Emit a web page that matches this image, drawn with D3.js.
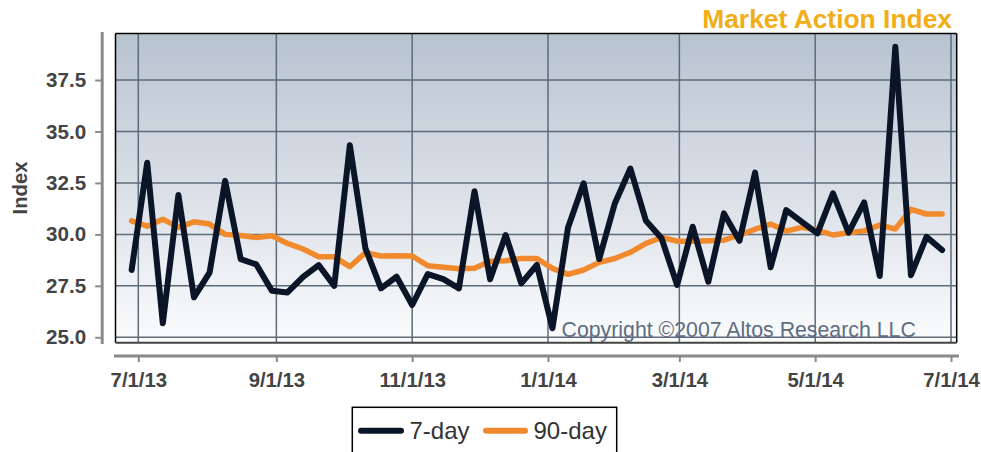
<!DOCTYPE html>
<html>
<head>
<meta charset="utf-8">
<script src="https://cdn.jsdelivr.net/npm/d3@7"></script>
<style>
  html, body { margin: 0; padding: 0; background: #ffffff; }
  svg { display: block; }
  text { font-family: "Liberation Sans", Arial, Helvetica, sans-serif; }
</style>
</head>
<body>
<svg id="chart" width="981" height="452"></svg>
<script>
// ---- Data ----
const firstWeek = "2013-06-28";   // first weekly observation
const weekCount = 53;
const sevenDay = [
  28.27, 33.48, 25.68, 31.91, 26.94, 28.14, 32.60, 28.80, 28.54, 27.26,
  27.18, 27.94, 28.51, 27.50, 34.33, 29.32, 27.38, 27.94, 26.57, 28.07,
  27.83, 27.38, 32.10, 27.82, 29.97, 27.62, 28.51, 25.44, 30.34, 32.48,
  28.80, 31.50, 33.20, 30.66, 29.81, 27.54, 30.37, 27.70, 31.02, 29.69,
  33.00, 28.40, 31.18, 30.61, 30.05, 31.99, 30.08, 31.55, 27.98, 39.11,
  28.02, 29.88, 29.24
];
const ninetyDay = [
  30.66, 30.40, 30.74, 30.34, 30.61, 30.50, 30.00, 29.95, 29.85, 29.93,
  29.56, 29.29, 28.91, 28.91, 28.43, 29.11, 28.95, 28.96, 28.95, 28.48,
  28.40, 28.33, 28.36, 28.70, 28.72, 28.83, 28.83, 28.35, 28.06, 28.27,
  28.64, 28.83, 29.13, 29.56, 29.85, 29.67, 29.67, 29.69, 29.72, 29.97,
  30.25, 30.50, 30.16, 30.34, 30.21, 29.97, 30.08, 30.17, 30.45, 30.26,
  31.21, 30.99, 30.99
];
const yTicks = [25.0, 27.5, 30.0, 32.5, 35.0, 37.5];
const xTickDates = ["2013-07-01", "2013-09-01", "2013-11-01", "2014-01-01", "2014-03-01", "2014-05-01", "2014-07-01"];
const seriesNames = ["7-day", "90-day"];
const seriesColors = ["#0b1528", "#f08a2c"];
const titleText = "Market Action Index";
const yTitle = "Index";
const copyrightText = "Copyright \u00A92007 Altos Research LLC";

// ---- Setup ----
const parse = d3.utcParse("%Y-%m-%d");
const start = parse(firstWeek);
const dates = d3.range(weekCount).map(i => d3.utcDay.offset(start, 7 * i));
const ticksX = xTickDates.map(parse);
const fmtX = d3.utcFormat("%-m/%-d/%y");

const plot = { left: 115.5, top: 33.5, right: 956.7, bottom: 342.7 };

const x = d3.scaleUtc()
  .domain([parse("2013-07-01"), parse("2014-07-01")])
  .range([138.3, 951]);
const y = d3.scaleLinear()
  .domain([25, 37.5])
  .range([337.3, 80]);

const svg = d3.select("#chart");
const defs = svg.append("defs");
const grad = defs.append("linearGradient").attr("id", "bg").attr("x1", 0).attr("y1", 0).attr("x2", 0).attr("y2", 1);
grad.append("stop").attr("offset", "0%").attr("stop-color", "#b8c3d0");
grad.append("stop").attr("offset", "55%").attr("stop-color", "#dde2e9");
grad.append("stop").attr("offset", "100%").attr("stop-color", "#fbfcfd");

// background
svg.append("rect")
  .attr("x", plot.left).attr("y", plot.top)
  .attr("width", plot.right - plot.left).attr("height", plot.bottom - plot.top)
  .attr("fill", "url(#bg)");

// gridlines
const grid = svg.append("g");
grid.selectAll("line.h").data(yTicks).join("line")
  .attr("x1", plot.left).attr("x2", plot.right)
  .attr("y1", d => y(d)).attr("y2", d => y(d))
  .attr("stroke", "#5d6b7a").attr("stroke-width", 1.5);
grid.selectAll("line.v").data(ticksX).join("line")
  .attr("x1", d => x(d)).attr("x2", d => x(d))
  .attr("y1", plot.top).attr("y2", plot.bottom)
  .attr("stroke", "#5d6b7a").attr("stroke-width", 1.5);

// copyright
svg.append("text")
  .attr("x", 561.5).attr("y", 336.5)
  .attr("font-size", 21.3)
  .attr("fill", "#5e6e81")
  .text(copyrightText);

// plot border
svg.append("line").attr("x1", plot.left).attr("x2", plot.right).attr("y1", plot.top).attr("y2", plot.top).attr("stroke", "#000").attr("stroke-width", 1.5);
svg.append("line").attr("x1", plot.left).attr("x2", plot.left).attr("y1", plot.top).attr("y2", plot.bottom).attr("stroke", "#000").attr("stroke-width", 1.5);
svg.append("line").attr("x1", plot.right).attr("x2", plot.right).attr("y1", plot.top).attr("y2", plot.bottom).attr("stroke", "#000").attr("stroke-width", 1.5);
svg.append("line").attr("x1", plot.left).attr("x2", plot.right).attr("y1", plot.bottom).attr("y2", plot.bottom).attr("stroke", "#444").attr("stroke-width", 2);

// lines
const lineGen = vals => d3.line()
  .x((d, i) => x(dates[i]))
  .y(d => y(d))(vals);

svg.append("path")
  .attr("d", lineGen(ninetyDay))
  .attr("fill", "none").attr("stroke", seriesColors[1])
  .attr("stroke-width", 5.5).attr("stroke-linejoin", "round").attr("stroke-linecap", "round");
svg.append("path")
  .attr("d", lineGen(sevenDay))
  .attr("fill", "none").attr("stroke", seriesColors[0])
  .attr("stroke-width", 6).attr("stroke-linejoin", "round").attr("stroke-linecap", "round");

// y axis
const yAxis = svg.append("g").attr("transform", "translate(102.2,0)")
  .call(d3.axisLeft(y).tickValues(yTicks).tickFormat(d3.format(".1f")).tickSize(7).tickPadding(9));
yAxis.select(".domain").remove();
yAxis.append("line").attr("x1", 0).attr("x2", 0).attr("y1", 32).attr("y2", 344)
  .attr("stroke", "#8a8a8a").attr("stroke-width", 3);
yAxis.selectAll(".tick line").attr("stroke", "#8a8a8a").attr("stroke-width", 2);
yAxis.selectAll(".tick text")
  .attr("font-family", "'Liberation Sans', Arial, sans-serif")
  .attr("font-size", 20.6).attr("font-weight", "bold").attr("fill", "#444");

// x axis
const xAxis = svg.append("g").attr("transform", "translate(0,356)")
  .call(d3.axisBottom(x).tickValues(ticksX).tickFormat(fmtX).tickSize(6).tickPadding(11));
xAxis.select(".domain").remove();
xAxis.append("line").attr("x1", 114).attr("x2", 959).attr("y1", 0).attr("y2", 0)
  .attr("stroke", "#8a8a8a").attr("stroke-width", 3);
xAxis.selectAll(".tick line").attr("stroke", "#8a8a8a").attr("stroke-width", 2);
xAxis.selectAll(".tick text")
  .attr("font-family", "'Liberation Sans', Arial, sans-serif")
  .attr("font-size", 20.3).attr("font-weight", "bold").attr("fill", "#444");

// y title
svg.append("text")
  .attr("transform", "translate(26.5,188) rotate(-90)")
  .attr("text-anchor", "middle")
  .attr("font-size", 20.3).attr("font-weight", "bold").attr("fill", "#444")
  .text(yTitle);

// title
svg.append("text")
  .attr("x", 952).attr("y", 28.3)
  .attr("text-anchor", "end")
  .attr("font-size", 26.4).attr("font-weight", "bold").attr("fill", "#f2ae17")
  .text(titleText);

// legend
const legend = svg.append("g");
legend.append("rect")
  .attr("x", 352.3).attr("y", 407.3).attr("width", 264.4).attr("height", 60)
  .attr("fill", "#fff").attr("stroke", "#000").attr("stroke-width", 1.5);
const legendItems = [
  { name: seriesNames[0], color: seriesColors[0], x1: 361, x2: 401, tx: 409.5 },
  { name: seriesNames[1], color: seriesColors[1], x1: 486, x2: 525, tx: 533.5 }
];
legendItems.forEach(it => {
  legend.append("line").attr("x1", it.x1).attr("x2", it.x2).attr("y1", 430.7).attr("y2", 430.7)
    .attr("stroke", it.color).attr("stroke-width", 6).attr("stroke-linecap", "round");
  legend.append("text").attr("x", it.tx).attr("y", 439)
    .attr("font-size", 24).attr("fill", "#333").text(it.name);
});
</script>
</body>
</html>
